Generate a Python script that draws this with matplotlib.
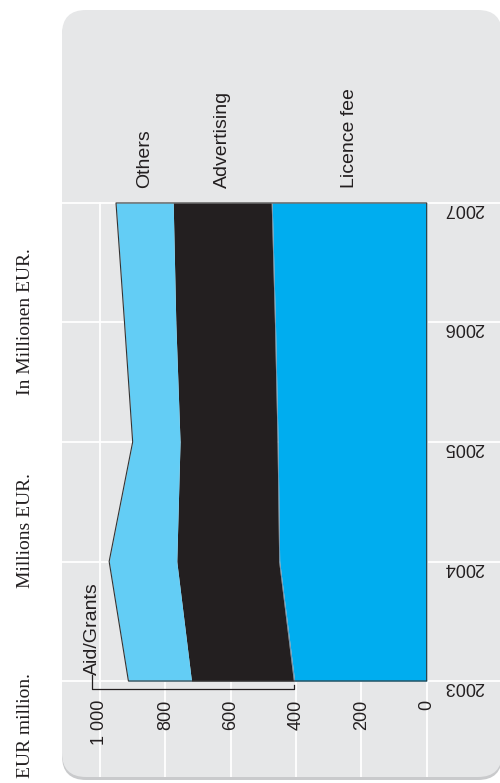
import numpy as np
import matplotlib
matplotlib.use('Agg')
import matplotlib.pyplot as plt
from matplotlib.patches import FancyBboxPatch
from matplotlib.transforms import Affine2D, offset_copy

# Ingresos por fuente (millones EUR)
years = [2003, 2004, 2005, 2006, 2007]
licence_fee = [404, 450, 455, 463, 473]
aid_grants = [4, 3, 3, 3, 3]
advertising = [312, 312, 297, 302, 300]
others = [193, 207, 145, 157, 175]

value_ticks = [0, 200, 400, 600, 800, 1000]
value_labels = ['0', '200', '400', '600', '800', '1 000']
series_names = ['Licence fee', 'Advertising', 'Others']
titles = ['EUR million.', 'Millions EUR.', 'In Millionen EUR.']

c_panel = '#e6e7e8'
c_licence = '#00adef'
c_aid = '#6a95b0'
c_adv = '#231f20'
c_others = '#63cdf5'
c_edge = '#333333'

fig = plt.figure(figsize=(5, 7.83), dpi=100)
fig.patch.set_facecolor('white')

# panel gris redondeado (en pixeles)
px = Affine2D().scale(1 / 100.) + fig.dpi_scale_trans
sombra = FancyBboxPatch((62, 3), 440, 767, boxstyle='round,pad=0,rounding_size=24',
                        transform=px, facecolor='#c9cacc', edgecolor='none', zorder=0)
panel = FancyBboxPatch((62, 6), 440, 767, boxstyle='round,pad=0,rounding_size=24',
                       transform=px, facecolor=c_panel, edgecolor='none', zorder=0)
fig.add_artist(sombra)
fig.add_artist(panel)

ax = fig.add_axes([62 / 500., 6 / 783., 440 / 500., 575 / 783.])
ax.set_facecolor('none')
ax.set_xlim(1116.3, -230.5)
ax.set_ylim(2002.197, 2007.008)
for s in ax.spines.values():
    s.set_visible(False)
ax.set_xticks(value_ticks)
ax.set_yticks(years)
ax.tick_params(length=0, labelbottom=False, labelleft=False)
ax.grid(True, color='white', linewidth=1.3)
ax.set_axisbelow(True)

yrs = np.array(years)
lf = np.array(licence_fee)
ag = lf + np.array(aid_grants)
ad = ag + np.array(advertising)
ot = ad + np.array(others)

ax.fill_betweenx(yrs, 0, lf, color=c_licence, linewidth=0, zorder=2)
ax.fill_betweenx(yrs, lf, ag, color=c_aid, linewidth=0, zorder=2)
ax.fill_betweenx(yrs, ag, ad, color=c_adv, linewidth=0, zorder=2)
ax.fill_betweenx(yrs, ad, ot, color=c_others, linewidth=0, zorder=2)
ax.fill_betweenx(yrs, 0, ot, facecolor='none', edgecolor=c_edge, linewidth=0.8, zorder=3)

yp = (ax.get_ylim()[1] - ax.get_ylim()[0]) / ax.bbox.height

# etiquetas del eje de valores
tr_val = offset_copy(ax.transData, fig=fig, x=0, y=-19, units='dots')
for v, lab in zip(value_ticks, value_labels):
    ax.text(v, years[0], lab, transform=tr_val, rotation=90, ha='center', va='top',
            fontsize=13, family='Liberation Sans', color='#231f20')

# etiquetas de años (giradas)
tr_year = offset_copy(ax.transData, fig=fig, x=37, y=-1, units='dots')
for y in years:
    ax.text(0, y, str(y), transform=tr_year, rotation=180, rotation_mode='anchor',
            ha='center', va='baseline', fontsize=13, family='Liberation Sans',
            color='#231f20')

# nombres de las series sobre el ultimo año
mids = [(0 + lf[-1]) / 2., (ag[-1] + ad[-1]) / 2., (ad[-1] + ot[-1]) / 2.]
tr_name = offset_copy(ax.transData, fig=fig, x=0, y=15, units='dots')
for m, name in zip(mids, series_names):
    ax.text(m, years[-1], name, transform=tr_name, rotation=90, rotation_mode='anchor',
            ha='left', va='center', fontsize=14, family='Liberation Sans',
            color='#231f20')

# Aid/Grants con su corchete
x_aid = 1024.5
x_tip = lf[0] + aid_grants[0] / 2.
ax.plot([x_aid, x_aid, x_tip, x_tip],
        [years[0] + 6 * yp, years[0] - 8 * yp, years[0] - 8 * yp, years[0] - 4 * yp],
        color=c_adv, linewidth=0.9, clip_on=False, zorder=4)
ax.text(x_aid, years[0] + 6 * yp, 'Aid/Grants', rotation=90, rotation_mode='anchor',
        ha='left', va='center', fontsize=14, family='Liberation Sans', color='#231f20')

# titulos en tres idiomas
for t, y0 in zip(titles, [778, 588, 395]):
    fig.text(25 / 500., 1 - y0 / 783., t, rotation=90, rotation_mode='anchor',
             ha='left', va='center', fontsize=14, family='Liberation Serif',
             color='#231f20')

plt.savefig('out.png', dpi=100)
